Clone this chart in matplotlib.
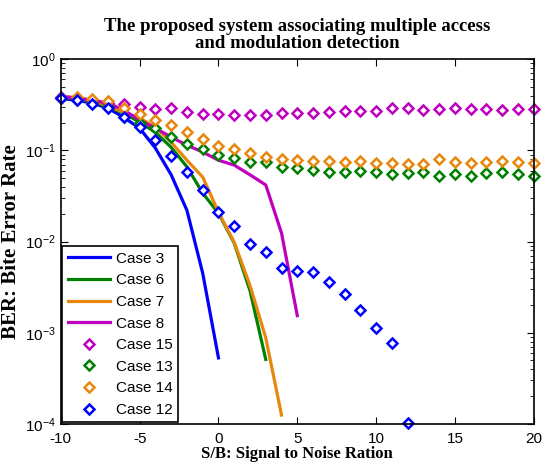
import numpy as np
import matplotlib
matplotlib.use('Agg')
import matplotlib.pyplot as plt
from matplotlib.ticker import LogLocator, NullFormatter

plt.rcParams['font.family'] = ['Liberation Sans', 'DejaVu Sans']
plt.rcParams['mathtext.default'] = 'regular'
plt.rcParams['axes.unicode_minus'] = False

# SNR axis
snr = np.arange(-10, 21)
snr_c3 = np.arange(-10, 1)
snr_c6 = np.arange(-10, 4)
snr_c7 = np.arange(-10, 5)
snr_c8 = np.arange(-10, 6)

# simulated curves (lines)
ber_c3 = [0.37, 0.355, 0.33, 0.29, 0.23, 0.175, 0.106, 0.054, 0.022, 0.0045, 0.00053]
ber_c6 = [0.38, 0.37, 0.34, 0.30, 0.256, 0.204, 0.158, 0.108, 0.066, 0.034, 0.0205,
          0.0096, 0.0029, 0.00051]
ber_c7 = [0.39, 0.38, 0.355, 0.31, 0.26, 0.226, 0.18, 0.123, 0.078, 0.051, 0.021,
          0.0098, 0.0033, 0.00088, 0.000125]
ber_c8 = [0.39, 0.375, 0.355, 0.33, 0.276, 0.215, 0.175, 0.14, 0.114, 0.096, 0.078,
          0.069, 0.054, 0.0418, 0.0124, 0.00154]

# markers
ber_c15 = [0.383, 0.364, 0.347, 0.330, 0.321, 0.298, 0.283, 0.290, 0.263, 0.250, 0.250,
           0.243, 0.243, 0.243, 0.256, 0.256, 0.256, 0.263, 0.269, 0.269, 0.269, 0.290,
           0.290, 0.276, 0.283, 0.290, 0.283, 0.283, 0.276, 0.283, 0.283]
ber_c13 = [0.38, 0.36, 0.33, 0.30, 0.231, 0.199, 0.175, 0.140, 0.117, 0.103, 0.0887,
           0.082, 0.074, 0.074, 0.066, 0.064, 0.0607, 0.058, 0.058, 0.0594, 0.058,
           0.055, 0.0563, 0.058, 0.052, 0.055, 0.052, 0.0563, 0.058, 0.055, 0.052]
ber_c14 = [0.38, 0.383, 0.37, 0.345, 0.29, 0.25, 0.216, 0.19, 0.158, 0.135, 0.113,
           0.104, 0.094, 0.084, 0.080, 0.078, 0.0763, 0.0763, 0.074, 0.0763, 0.0725,
           0.0725, 0.0707, 0.0707, 0.080, 0.074, 0.0725, 0.074, 0.0763, 0.074, 0.0725]
ber_c12 = [0.38, 0.36, 0.32, 0.29, 0.23, 0.18, 0.13, 0.087, 0.058, 0.0367, 0.021,
           0.0148, 0.0094, 0.0077, 0.0051, 0.00475, 0.00463, 0.0036, 0.00266, 0.00177,
           0.00113, 0.00077, 0.000103]
snr_c12 = np.arange(-10, 13)

blue = (0, 0, 1)
green = (0, 0.5, 0)
orange = (0.91, 0.53, 0.05)
magenta = (0.75, 0, 0.75)

fig = plt.figure(figsize=(5.43, 4.70), dpi=100)
ax = fig.add_axes([0.112, 0.098, 0.871, 0.776])

lw = 2.3
ax.plot(snr_c3, ber_c3, color=blue, lw=lw, label='Case 3')
ax.plot(snr_c6, ber_c6, color=green, lw=lw, label='Case 6')
ax.plot(snr_c7, ber_c7, color=orange, lw=lw, label='Case 7')
ax.plot(snr_c8, ber_c8, color=magenta, lw=lw, label='Case 8')

mk = dict(marker='D', ls='none', ms=4.6, mew=1.8, mfc='white', clip_on=False)
ax.plot(snr, ber_c15, mec=magenta, label='Case 15', **mk)
ax.plot(snr, ber_c13, mec=green, label='Case 13', **mk)
ax.plot(snr, ber_c14, mec=orange, label='Case 14', **mk)
ax.plot(snr_c12, ber_c12, mec=blue, label='Case 12', **mk)

ax.set_yscale('log')
ax.set_xlim(-10, 20)
ax.set_ylim(1e-4, 1)
ax.set_xticks(np.arange(-10, 21, 5))
ax.yaxis.set_major_locator(LogLocator(base=10, numticks=10))
ax.yaxis.set_minor_locator(LogLocator(base=10, subs=np.arange(2, 10), numticks=10))
ax.yaxis.set_minor_formatter(NullFormatter())
ax.tick_params(which='both', direction='in', top=True, right=True, labelsize=11)
ax.tick_params(which='major', length=5)
ax.tick_params(which='minor', length=3)
ax.tick_params(axis='x', pad=6)
for s in ax.spines.values():
    s.set_linewidth(1.2)

serif = ['Liberation Serif', 'DejaVu Serif']
ax.set_title('The proposed system associating multiple access\nand modulation detection',
             fontfamily=serif, fontweight='bold', fontsize=13.5, pad=8, linespacing=1.0)
ax.set_xlabel('S/B: Signal to Noise Ration', fontfamily=serif, fontweight='bold',
              fontsize=12, labelpad=0)
ax.set_ylabel('BER: Bite Error Rate', fontfamily=serif, fontweight='bold',
              fontsize=15, labelpad=3)

leg = ax.legend(loc='lower left', fontsize=11, handlelength=2.8, handletextpad=0.35,
                borderaxespad=0.1, labelspacing=0.5, borderpad=0.35,
                fancybox=False, framealpha=1, edgecolor='black')
leg.get_frame().set_linewidth(1.2)

fig.savefig('out.png', dpi=100)
